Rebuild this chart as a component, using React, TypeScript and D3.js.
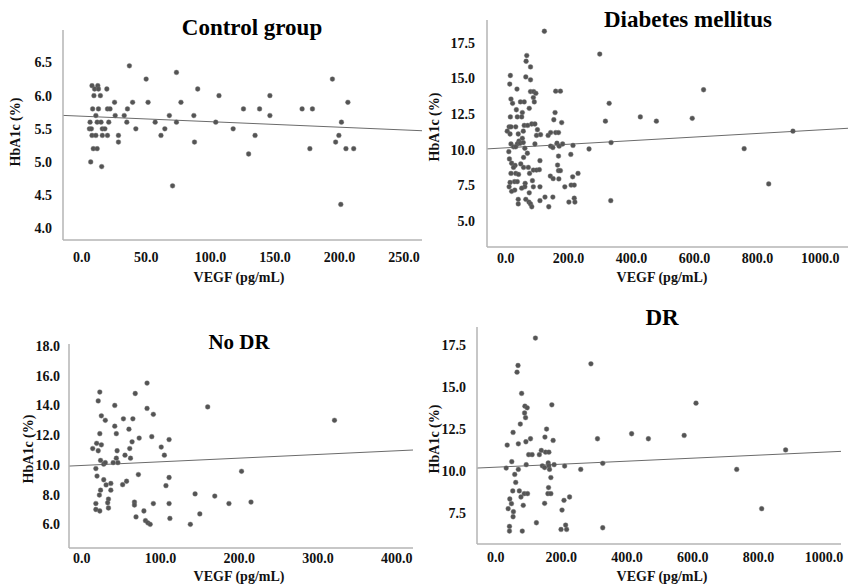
import * as d3 from "d3";

// ---- data (VEGF pg/mL, HbA1c %) ----
const controlPoints: [number, number][] = [
  [6.5, 5.6], [6, 5.5], [7.5, 5.5], [7, 5.0], [8, 6.15], [8.5, 5.8], [8, 5.4], [9, 5.2], [9.5, 6.0], [10, 6.1],
  [11, 5.7], [11, 5.4], [12.5, 6.15], [13, 6.1], [13, 5.8], [12, 5.6], [12, 5.2], [15, 5.6], [14.5, 6.0], [15.5, 4.93],
  [16, 5.4], [16, 5.5], [18, 5.5], [19.5, 6.1], [20, 5.4], [20, 5.8], [21, 5.6], [22, 5.8], [25.5, 5.9], [26, 5.7],
  [28.5, 5.4], [28.5, 5.3], [33, 5.7], [35, 5.6], [35.5, 5.8], [37, 6.45], [39.5, 5.9], [42, 5.5], [50, 6.25], [51.5, 5.9],
  [57, 5.6], [61.5, 5.4], [64.5, 5.5], [68, 5.7], [70.5, 4.64], [73.5, 6.35], [73.5, 5.6], [77, 5.9], [87, 5.7], [87.5, 5.3],
  [90, 6.1], [104, 5.6], [106.5, 6.0], [117.5, 5.5], [125.5, 5.8], [129.5, 5.12], [134.5, 5.4], [138, 5.8], [146, 6.0], [146, 5.7],
  [171, 5.8], [177, 5.2], [179, 5.8], [194.5, 6.25], [197, 5.3], [199.5, 5.4], [201, 4.36], [201.5, 5.6], [205, 5.2], [206.5, 5.9],
  [211, 5.2],
];

const diabetesPoints: [number, number][] = [
  [123, 18.3], [67, 16.6], [65, 16.2], [79, 15.8], [15, 15.2], [64, 15.1], [79, 14.9], [13, 14.6], [36, 14.25], [79, 14.07],
  [89, 14.07], [96, 13.95], [159, 14.1], [174, 14.1], [88, 13.65], [17, 13.55], [22, 13.25], [47, 13.35], [59, 13.35], [91, 13.35],
  [34, 12.8], [75, 12.9], [53, 12.6], [157, 12.6], [329, 13.25], [15, 12.3], [37, 12.3], [51, 12.3], [299, 16.7], [317, 12.0],
  [153, 12.1], [178, 11.9], [11, 11.6], [17, 11.6], [32, 11.6], [5, 11.3], [14, 11.1], [40, 11.1], [56, 11.3], [59, 11.7],
  [70, 11.7], [83, 11.8], [93, 11.8], [101, 11.4], [98, 11.0], [111, 11.05], [135, 11.0], [143, 11.2], [159, 11.2], [168, 11.2],
  [53, 10.8], [42, 10.6], [37, 10.4], [17, 10.4], [25, 10.2], [32, 10.2], [46, 10.45], [56, 10.5], [61, 10.1], [93, 10.4],
  [143, 10.25], [150, 10.15], [163, 10.45], [170, 10.25], [181, 10.4], [214, 10.3], [265, 10.05], [335, 10.5],
  [10, 9.86], [69, 9.75], [57, 9.46], [168, 9.55], [207, 9.67], [12, 9.35], [109, 9.23], [19, 9.05], [30, 8.9], [48, 9.0],
  [57, 8.76], [25, 8.76], [72, 8.76], [165, 8.92], [88, 8.57], [98, 8.57], [107, 8.6], [168, 8.53], [174, 8.53], [76, 8.34],
  [17, 8.34], [32, 8.34], [41, 8.27], [142, 8.15], [213, 8.1], [230, 8.34], [151, 7.97], [169, 7.95], [28, 7.76], [37, 7.76],
  [14, 7.7], [62, 7.64], [85, 7.83], [61, 7.4], [51, 7.3], [11, 7.4], [29, 7.17], [19, 7.08], [88, 7.4], [109, 7.4],
  [75, 6.98], [188, 7.4], [208, 7.52], [218, 7.52], [40, 6.52], [40, 6.2], [64, 6.52], [74, 6.33], [79, 6.2], [83, 6.0],
  [109, 6.43], [125, 6.68], [150, 6.68], [137, 6.0], [201, 6.33], [218, 6.6], [220, 6.33], [334, 6.43],
  [629, 14.2], [428, 12.3], [479, 12.0], [593, 12.2], [758, 10.07], [913, 11.3], [836, 7.6],
];

const noDrPoints: [number, number][] = [
  [83, 15.5], [23, 14.9], [68, 14.8], [21, 14.3], [42, 14.0], [83, 13.8], [160, 13.9], [91, 13.4], [25, 13.3], [30, 13.0],
  [53, 13.1], [65, 13.1], [42, 12.6], [60, 12.4], [23, 12.1], [44, 12.1], [89, 11.9], [73, 11.8], [111, 11.7], [64, 11.55],
  [19, 11.45], [25, 11.35], [14, 11.1], [21, 10.95], [45, 10.95], [61, 11.1], [101, 11.2], [105, 10.65], [55, 10.65], [44, 10.45],
  [62, 10.45], [24, 10.3], [28, 10.05], [30, 10.15], [40, 10.15], [46, 10.15], [18, 9.75], [19.5, 9.25], [28, 9.0], [37, 8.75],
  [31, 8.65], [57, 8.9], [52, 8.67], [72, 9.35], [111, 9.15], [107, 8.6], [24, 8.3], [22.5, 7.97], [37, 8.3], [34, 7.7],
  [33, 7.45], [18, 7.4], [67, 7.5], [67, 7.3], [91, 7.4], [111, 7.4], [144, 8.05], [169, 7.9], [34, 7.1], [18, 7.0],
  [23, 6.9], [79, 6.9], [69, 6.5], [81, 6.25], [84, 6.1], [87, 6.0], [112, 6.4], [150, 6.7], [138, 6.0], [203, 9.57],
  [187, 7.4], [215, 7.5], [321, 13.0],
];

const drPoints: [number, number][] = [
  [121, 17.94], [68, 16.3], [65, 15.9], [290, 16.4], [79, 14.63], [89, 13.87], [96, 13.77], [171, 13.95], [88, 13.46], [91, 13.18],
  [75, 12.8], [155, 12.5], [53, 12.3], [150, 12.02], [106, 11.92], [92, 11.74], [175, 11.82], [69, 11.62], [35, 11.54], [310, 11.92],
  [139, 11.22], [152, 11.12], [162, 11.12], [100.5, 10.97], [111, 10.97], [133, 10.97], [49, 10.55], [93, 10.37], [160, 10.47], [178, 10.37],
  [142, 10.3], [149, 10.2], [162, 10.3], [210, 10.29], [32, 10.17], [69, 10.09], [164, 10.09], [259, 10.09], [326, 10.45], [58, 9.79],
  [168, 9.6], [61, 9.31], [161, 9.0], [52, 8.8], [72, 8.8], [87, 8.64], [97, 8.64], [159, 8.64], [168, 8.64], [77, 8.44],
  [43, 8.32], [225, 8.44], [208, 8.24], [48, 8.04], [84, 7.94], [149, 8.06], [38, 7.74], [202, 7.66], [54, 7.56], [53, 7.26],
  [124, 6.9], [42, 6.68], [42, 6.4], [81, 6.4], [213, 6.76], [199, 6.5], [216, 6.5], [326, 6.6],
  [414, 12.22], [465, 11.92], [574, 12.12], [610, 14.05], [734, 10.09], [810, 7.74], [883, 11.25],
];

// fitted lines (intercept, slope) as drawn
const controlFit = [5.69, -0.00083];
const diabetesFit = [10.13, 0.00126];
const noDrFit = [9.96, 0.00247];
const drFit = [10.22, 0.0009];

const controlXTicks = [0, 50, 100, 150, 200, 250];
const controlYTicks = [4.0, 4.5, 5.0, 5.5, 6.0, 6.5];
const diabetesXTicks = [0, 200, 400, 600, 800, 1000];
const diabetesYTicks = [5.0, 7.5, 10.0, 12.5, 15.0, 17.5];
const noDrXTicks = [0, 100, 200, 300, 400];
const noDrYTicks = [6, 8, 10, 12, 14, 16, 18];
const drXTicks = [0, 200, 400, 600, 800, 1000];
const drYTicks = [7.5, 10.0, 12.5, 15.0, 17.5];

const xLabel = "VEGF (pg/mL)";
const yLabel = "HbA1c (%)";

const FONT = "'Liberation Serif', 'Times New Roman', serif";
const fmt = d3.format(".1f");

type PanelCfg = {
  title: string;
  titleSize: number;
  titleX: number;
  titleY: number;
  points: [number, number][];
  fit: number[];
  xTicks: number[];
  yTicks: number[];
  xDomain: [number, number];
  yDomain: [number, number];
  left: number;
  right: number;
  top: number;
  bottom: number;
  yTickGap: number;
  xTickDy: number;
  xLabelX: number;
  xLabelY: number;
  yLabelX: number;
  yLabelY: number;
};

const panels: PanelCfg[] = [
  {
    title: "Control group", titleSize: 23, titleX: 252, titleY: 35,
    points: controlPoints, fit: controlFit, xTicks: controlXTicks, yTicks: controlYTicks,
    xDomain: [-14.5, 264], yDomain: [3.823, 6.99],
    left: 63, right: 422, top: 30, bottom: 240,
    yTickGap: 11, xTickDy: 22, xLabelX: 239, xLabelY: 282, yLabelX: 15, yLabelY: 132,
  },
  {
    title: "Diabetes mellitus", titleSize: 23, titleX: 688, titleY: 27,
    points: diabetesPoints, fit: diabetesFit, xTicks: diabetesXTicks, yTicks: diabetesYTicks,
    xDomain: [-59.3, 1088], yDomain: [3.18, 19.09],
    left: 487, right: 848, top: 20, bottom: 247,
    yTickGap: 12, xTickDy: 16, xLabelX: 662, xLabelY: 282, yLabelX: 434, yLabelY: 127,
  },
  {
    title: "No DR", titleSize: 21, titleX: 239, titleY: 349,
    points: noDrPoints, fit: noDrFit, xTicks: noDrXTicks, yTicks: noDrYTicks,
    xDomain: [-16.1, 420.7], yDomain: [4.41, 18.13],
    left: 69, right: 413, top: 344, bottom: 548,
    yTickGap: 9, xTickDy: 15, xLabelX: 239, xLabelY: 581, yLabelX: 28, yLabelY: 449,
  },
  {
    title: "DR", titleSize: 23, titleX: 662, titleY: 325,
    points: drPoints, fit: drFit, xTicks: drXTicks, yTicks: drYTicks,
    xDomain: [-56.9, 1051.6], yDomain: [5.63, 18.6],
    left: 477, right: 841, top: 327, bottom: 544,
    yTickGap: 11, xTickDy: 18, xLabelX: 662, xLabelY: 581, yLabelX: 434, yLabelY: 439,
  },
];

function Panel({ p }: { p: PanelCfg }) {
  const x = d3.scaleLinear().domain(p.xDomain).range([p.left, p.right]);
  const y = d3.scaleLinear().domain(p.yDomain).range([p.bottom, p.top]);
  const line = d3
    .line<number>()
    .x((d) => x(d))
    .y((d) => y(p.fit[0] + p.fit[1] * d));

  return (
    <g fontFamily={FONT} fontWeight="bold" fill="#111">
      {/* regression line */}
      <path d={line(p.xDomain) || ""} stroke="#6b6b6b" strokeWidth={1} fill="none" />
      {/* points */}
      {p.points.map((d, i) => (
        <circle key={i} cx={x(d[0])} cy={y(d[1])} r={2.4} fill="#545454" stroke="#777" strokeWidth={0.4} />
      ))}
      {/* axes */}
      <line x1={p.left} x2={p.left} y1={p.top} y2={p.bottom} stroke="#b4b4b4" strokeWidth={1.5} />
      <line x1={p.left} x2={p.right} y1={p.bottom} y2={p.bottom} stroke="#b4b4b4" strokeWidth={1.5} />
      {p.yTicks.map((t) => (
        <text key={"y" + t} x={p.left - p.yTickGap} y={y(t)} dy="0.35em" textAnchor="end" fontSize={14}>
          {fmt(t)}
        </text>
      ))}
      {p.xTicks.map((t) => (
        <text key={"x" + t} x={x(t)} y={p.bottom + p.xTickDy} textAnchor="middle" fontSize={14}>
          {fmt(t)}
        </text>
      ))}
      <text x={p.xLabelX} y={p.xLabelY} textAnchor="middle" fontSize={14}>
        {xLabel}
      </text>
      <text
        transform={`translate(${p.yLabelX},${p.yLabelY}) rotate(-90)`}
        textAnchor="middle"
        dy="0.35em"
        fontSize={14}
      >
        {yLabel}
      </text>
      <text x={p.titleX} y={p.titleY} textAnchor="middle" fontSize={p.titleSize} fill="#000">
        {p.title}
      </text>
    </g>
  );
}

export default function App() {
  return (
    <svg
      width={848}
      height={584}
      style={{ position: "absolute", left: 0, top: 0, background: "#fff" }}
    >
      <rect width={848} height={584} fill="#fff" />
      {panels.map((p) => (
        <Panel key={p.title} p={p} />
      ))}
    </svg>
  );
}
